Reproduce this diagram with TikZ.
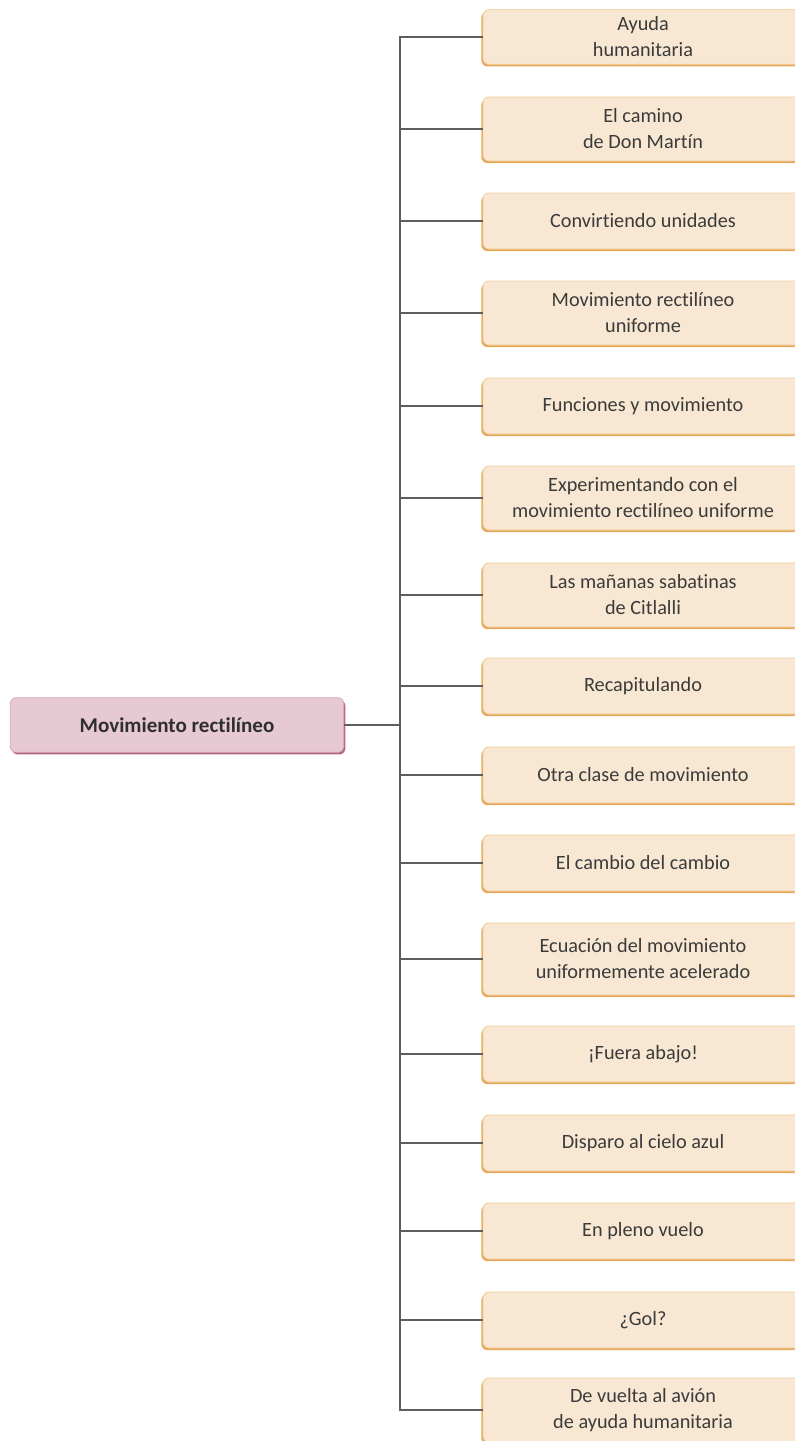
\documentclass[tikz,border=0pt]{standalone}
\usepackage{fontspec}
\setmainfont{Carlito}[Ligatures=NoCommon]
\usepackage{xcolor}
\definecolor{leaf-fill}{HTML}{F8E8D3}
\definecolor{leaf-edge}{HTML}{F1CC96}
\definecolor{leaf-shade}{HTML}{E6A85A}
\definecolor{root-fill}{HTML}{E6C9D3}
\definecolor{root-edge}{HTML}{D9A6BA}
\definecolor{root-shade}{HTML}{B9627F}
\definecolor{branch-line}{HTML}{5E5E5E}
\definecolor{label-text}{HTML}{3B3B3B}
\usepackage{tikz}
\usetikzlibrary{shadows}

\begin{document}
\begin{tikzpicture}[x=0.75pt, y=-0.75pt,
    leaf/.style={draw=leaf-edge, line width=0.6pt, fill=leaf-fill, rounded corners=4.5pt,
        minimum width=240pt, minimum height=42pt, align=center, text=label-text,
        font=\fontsize{15.2}{19.5}\selectfont,
        drop shadow={shadow xshift=-1.2pt, shadow yshift=-1.6pt, fill=leaf-shade, opacity=1}},
    root/.style={draw=root-edge, line width=0.6pt, fill=root-fill, rounded corners=4.5pt,
        minimum width=250pt, minimum height=41pt, align=center, text=label-text!80!black,
        font=\fontsize{15.8}{19}\selectfont\bfseries,
        drop shadow={shadow xshift=1.2pt, shadow yshift=-1.6pt, fill=root-shade, opacity=1}},
    branch/.style={draw=branch-line, line width=1.4pt}]

    % Frame
    \useasboundingbox (0, 0) rectangle (794, 1441);

    % Root
    \node[root] (root) at (177, 725) {Movimiento rectilíneo};

    % Lessons
    \node[leaf, minimum height=41pt] (ayuda) at (643, 37) {Ayuda\\humanitaria};
    \node[leaf, minimum height=48pt] (camino) at (643, 129) {El camino\\de Don Martín};
    \node[leaf] (convirtiendo) at (643, 221) {Convirtiendo unidades};
    \node[leaf, minimum height=48pt] (mru) at (643, 313) {Movimiento rectilíneo\\uniforme};
    \node[leaf] (funciones) at (643, 406) {Funciones y movimiento};
    \node[leaf, minimum height=48pt] (experimentando) at (643, 498) {Experimentando con el\\movimiento rectilíneo uniforme};
    \node[leaf, minimum height=48pt] (mananas) at (643, 595) {Las mañanas sabatinas\\de Citlalli};
    \node[leaf] (recapitulando) at (643, 686) {Recapitulando};
    \node[leaf] (otra) at (643, 775) {Otra clase de movimiento};
    \node[leaf] (cambio) at (643, 863) {El cambio del cambio};
    \node[leaf, minimum height=54pt] (ecuacion) at (643, 959) {Ecuación del movimiento\\uniformemente acelerado};
    \node[leaf] (fuera) at (643, 1054) {¡Fuera abajo!};
    \node[leaf] (disparo) at (643, 1143) {Disparo al cielo azul};
    \node[leaf] (pleno) at (643, 1231) {En pleno vuelo};
    \node[leaf] (gol) at (643, 1320) {¿Gol?};
    \node[leaf, minimum height=48pt] (vuelta) at (643, 1410) {De vuelta al avión\\de ayuda humanitaria};

    % Branches
    \coordinate (hub) at (400, 725);
    \draw[branch] (root.east) -- (hub);
    \draw[branch] (hub) |- (ayuda.west);
    \draw[branch] (hub) |- (camino.west);
    \draw[branch] (hub) |- (convirtiendo.west);
    \draw[branch] (hub) |- (mru.west);
    \draw[branch] (hub) |- (funciones.west);
    \draw[branch] (hub) |- (experimentando.west);
    \draw[branch] (hub) |- (mananas.west);
    \draw[branch] (hub) |- (recapitulando.west);
    \draw[branch] (hub) |- (otra.west);
    \draw[branch] (hub) |- (cambio.west);
    \draw[branch] (hub) |- (ecuacion.west);
    \draw[branch] (hub) |- (fuera.west);
    \draw[branch] (hub) |- (disparo.west);
    \draw[branch] (hub) |- (pleno.west);
    \draw[branch] (hub) |- (gol.west);
    \draw[branch] (hub) |- (vuelta.west);

\end{tikzpicture}
\end{document}
